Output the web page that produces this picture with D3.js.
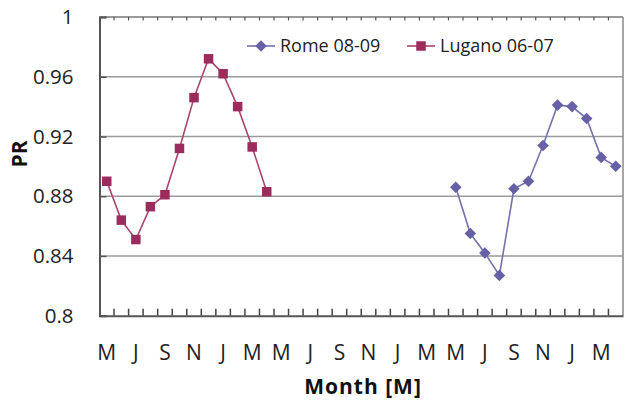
<!DOCTYPE html>
<html>
<head>
<meta charset="utf-8">
<script src="https://cdn.jsdelivr.net/npm/d3@7"></script>
<style>
  body { margin: 0; background: #fff; }
  svg { display: block; font-family: "Open Sans", sans-serif; }
</style>
</head>
<body>
<svg id="chart" width="624" height="401"></svg>
<script>
// months May 2006 .. Apr 2009, one category per month
var categories = [
  "May06","Jun06","Jul06","Aug06","Sep06","Oct06","Nov06","Dec06","Jan07","Feb07","Mar07","Apr07",
  "May07","Jun07","Jul07","Aug07","Sep07","Oct07","Nov07","Dec07","Jan08","Feb08","Mar08","Apr08",
  "May08","Jun08","Jul08","Aug08","Sep08","Oct08","Nov08","Dec08","Jan09","Feb09","Mar09","Apr09"
];
// labels on every second month
var tickCats = ["May06","Jul06","Sep06","Nov06","Jan07","Mar07","May07","Jul07","Sep07","Nov07","Jan08","Mar08",
  "May08","Jul08","Sep08","Nov08","Jan09","Mar09"];
var tickLabels = ["M","J","S","N","J","M","M","J","S","N","J","M","M","J","S","N","J","M"];

var yTicks = [0.8, 0.84, 0.88, 0.92, 0.96, 1];

var luganoMonths = categories.slice(0, 12);
var luganoPR = [0.890, 0.864, 0.851, 0.873, 0.881, 0.912, 0.946, 0.972, 0.962, 0.940, 0.913, 0.883];
var romeMonths = categories.slice(24, 36);
var romePR = [0.886, 0.855, 0.842, 0.827, 0.885, 0.890, 0.914, 0.941, 0.940, 0.932, 0.906, 0.900];

var svg = d3.select("#chart");
var plot = {left: 99.5, right: 623, top: 17, bottom: 315.7};

var x = d3.scaleBand().domain(categories).range([plot.left, plot.right]);
var y = d3.scaleLinear().domain([0.8, 1]).range([plot.bottom, plot.top]);

// gridlines
svg.append("g")
  .selectAll("line")
  .data(yTicks.slice(1, -1))
  .enter().append("line")
    .attr("x1", plot.left).attr("x2", plot.right)
    .attr("y1", function(d) { return y(d); })
    .attr("y2", function(d) { return y(d); })
    .attr("stroke", "#9a9a9a")
    .attr("stroke-width", 1.5);

// frame: top and right
svg.append("line").attr("x1", plot.left).attr("x2", plot.right).attr("y1", y(1)).attr("y2", y(1))
  .attr("stroke", "#777").attr("stroke-width", 1.5);
svg.append("line").attr("x1", plot.right).attr("x2", plot.right).attr("y1", plot.top).attr("y2", plot.bottom)
  .attr("stroke", "#888").attr("stroke-width", 1.5);

// month boundary ticks (bottom inside, top inside)
var bounds = categories.slice(1);
svg.append("g").selectAll("line").data(bounds).enter().append("line")
  .attr("x1", function(d) { return x(d); }).attr("x2", function(d) { return x(d); })
  .attr("y1", plot.bottom).attr("y2", plot.bottom - 7)
  .attr("stroke", "#444").attr("stroke-width", 1.5);
svg.append("g").selectAll("line").data(bounds).enter().append("line")
  .attr("x1", function(d) { return x(d); }).attr("x2", function(d) { return x(d); })
  .attr("y1", plot.top).attr("y2", plot.top + 3.5)
  .attr("stroke", "#555").attr("stroke-width", 1.2);

// y axis
var yAxis = d3.axisLeft(y).tickValues(yTicks).tickFormat(d3.format("~g")).tickSize(-7).tickPadding(26);
var yg = svg.append("g").attr("transform", "translate(" + plot.left + ",0)").call(yAxis);
yg.select(".domain").attr("stroke", "#555").attr("stroke-width", 2);
yg.selectAll(".tick line").attr("stroke", "#555").attr("stroke-width", 1.5);
yg.selectAll(".tick text").attr("font-size", 20.5).attr("fill", "#222")
  .attr("font-family", "Open Sans");

// x axis
var xAxis = d3.axisBottom(x).tickValues(tickCats)
  .tickFormat(function(d, i) { return tickLabels[i]; })
  .tickSize(0).tickPadding(29);
var xg = svg.append("g").attr("transform", "translate(0," + plot.bottom + ")").call(xAxis);
xg.select(".domain").attr("stroke", "#555").attr("stroke-width", 2);
xg.selectAll(".tick text").attr("font-size", 21).attr("fill", "#222")
  .attr("font-family", "Open Sans");

// axis titles
svg.append("text")
  .attr("transform", "translate(27,154) rotate(-90)")
  .attr("text-anchor", "middle")
  .attr("font-size", 21).attr("font-weight", "bold").attr("fill", "#111")
  .text("PR");
svg.append("text")
  .attr("x", 363).attr("y", 394)
  .attr("text-anchor", "middle")
  .attr("font-size", 21).attr("font-weight", "bold").attr("fill", "#111")
  .attr("letter-spacing", 1)
  .text("Month [M]");

var cx = function(d) { return x(d) + x.bandwidth() / 2; };

var lugano = luganoMonths.map(function(m, i) { return {m: m, v: luganoPR[i]}; });
var rome = romeMonths.map(function(m, i) { return {m: m, v: romePR[i]}; });

var line = d3.line()
  .x(function(d) { return cx(d.m); })
  .y(function(d) { return y(d.v); });

// Lugano series
svg.append("path").datum(lugano)
  .attr("d", line).attr("fill", "none")
  .attr("stroke", "#a8456f").attr("stroke-width", 1.6);
svg.selectAll(".sq").data(lugano).enter().append("rect")
  .attr("class", "sq")
  .attr("x", function(d) { return cx(d.m) - 4.75; })
  .attr("y", function(d) { return y(d.v) - 4.75; })
  .attr("width", 9.5).attr("height", 9.5)
  .attr("fill", "#9c2b5e");

// Rome series
svg.append("path").datum(rome)
  .attr("d", line).attr("fill", "none")
  .attr("stroke", "#7471ad").attr("stroke-width", 1.6);
var diamond = d3.symbol().type(d3.symbolDiamond2).size(85);
svg.selectAll(".dm").data(rome).enter().append("path")
  .attr("class", "dm")
  .attr("transform", function(d) { return "translate(" + cx(d.m) + "," + y(d.v) + ")"; })
  .attr("d", diamond)
  .attr("fill", "#6660a6");

// legend
var legend = svg.append("g").attr("transform", "translate(0,46)");
legend.append("line").attr("x1", 247).attr("x2", 275).attr("y1", 0).attr("y2", 0)
  .attr("stroke", "#7471ad").attr("stroke-width", 1.6);
legend.append("path").attr("transform", "translate(261,0)").attr("d", diamond).attr("fill", "#6660a6");
legend.append("text").attr("x", 280).attr("y", 6).attr("font-size", 18).attr("fill", "#222").text("Rome 08-09");
legend.append("line").attr("x1", 407).attr("x2", 435).attr("y1", 0).attr("y2", 0)
  .attr("stroke", "#a8456f").attr("stroke-width", 1.6);
legend.append("rect").attr("x", 416.25).attr("y", -4.75).attr("width", 9.5).attr("height", 9.5).attr("fill", "#9c2b5e");
legend.append("text").attr("x", 440).attr("y", 6).attr("font-size", 18).attr("fill", "#222").text("Lugano 06-07");
</script>
</body>
</html>
